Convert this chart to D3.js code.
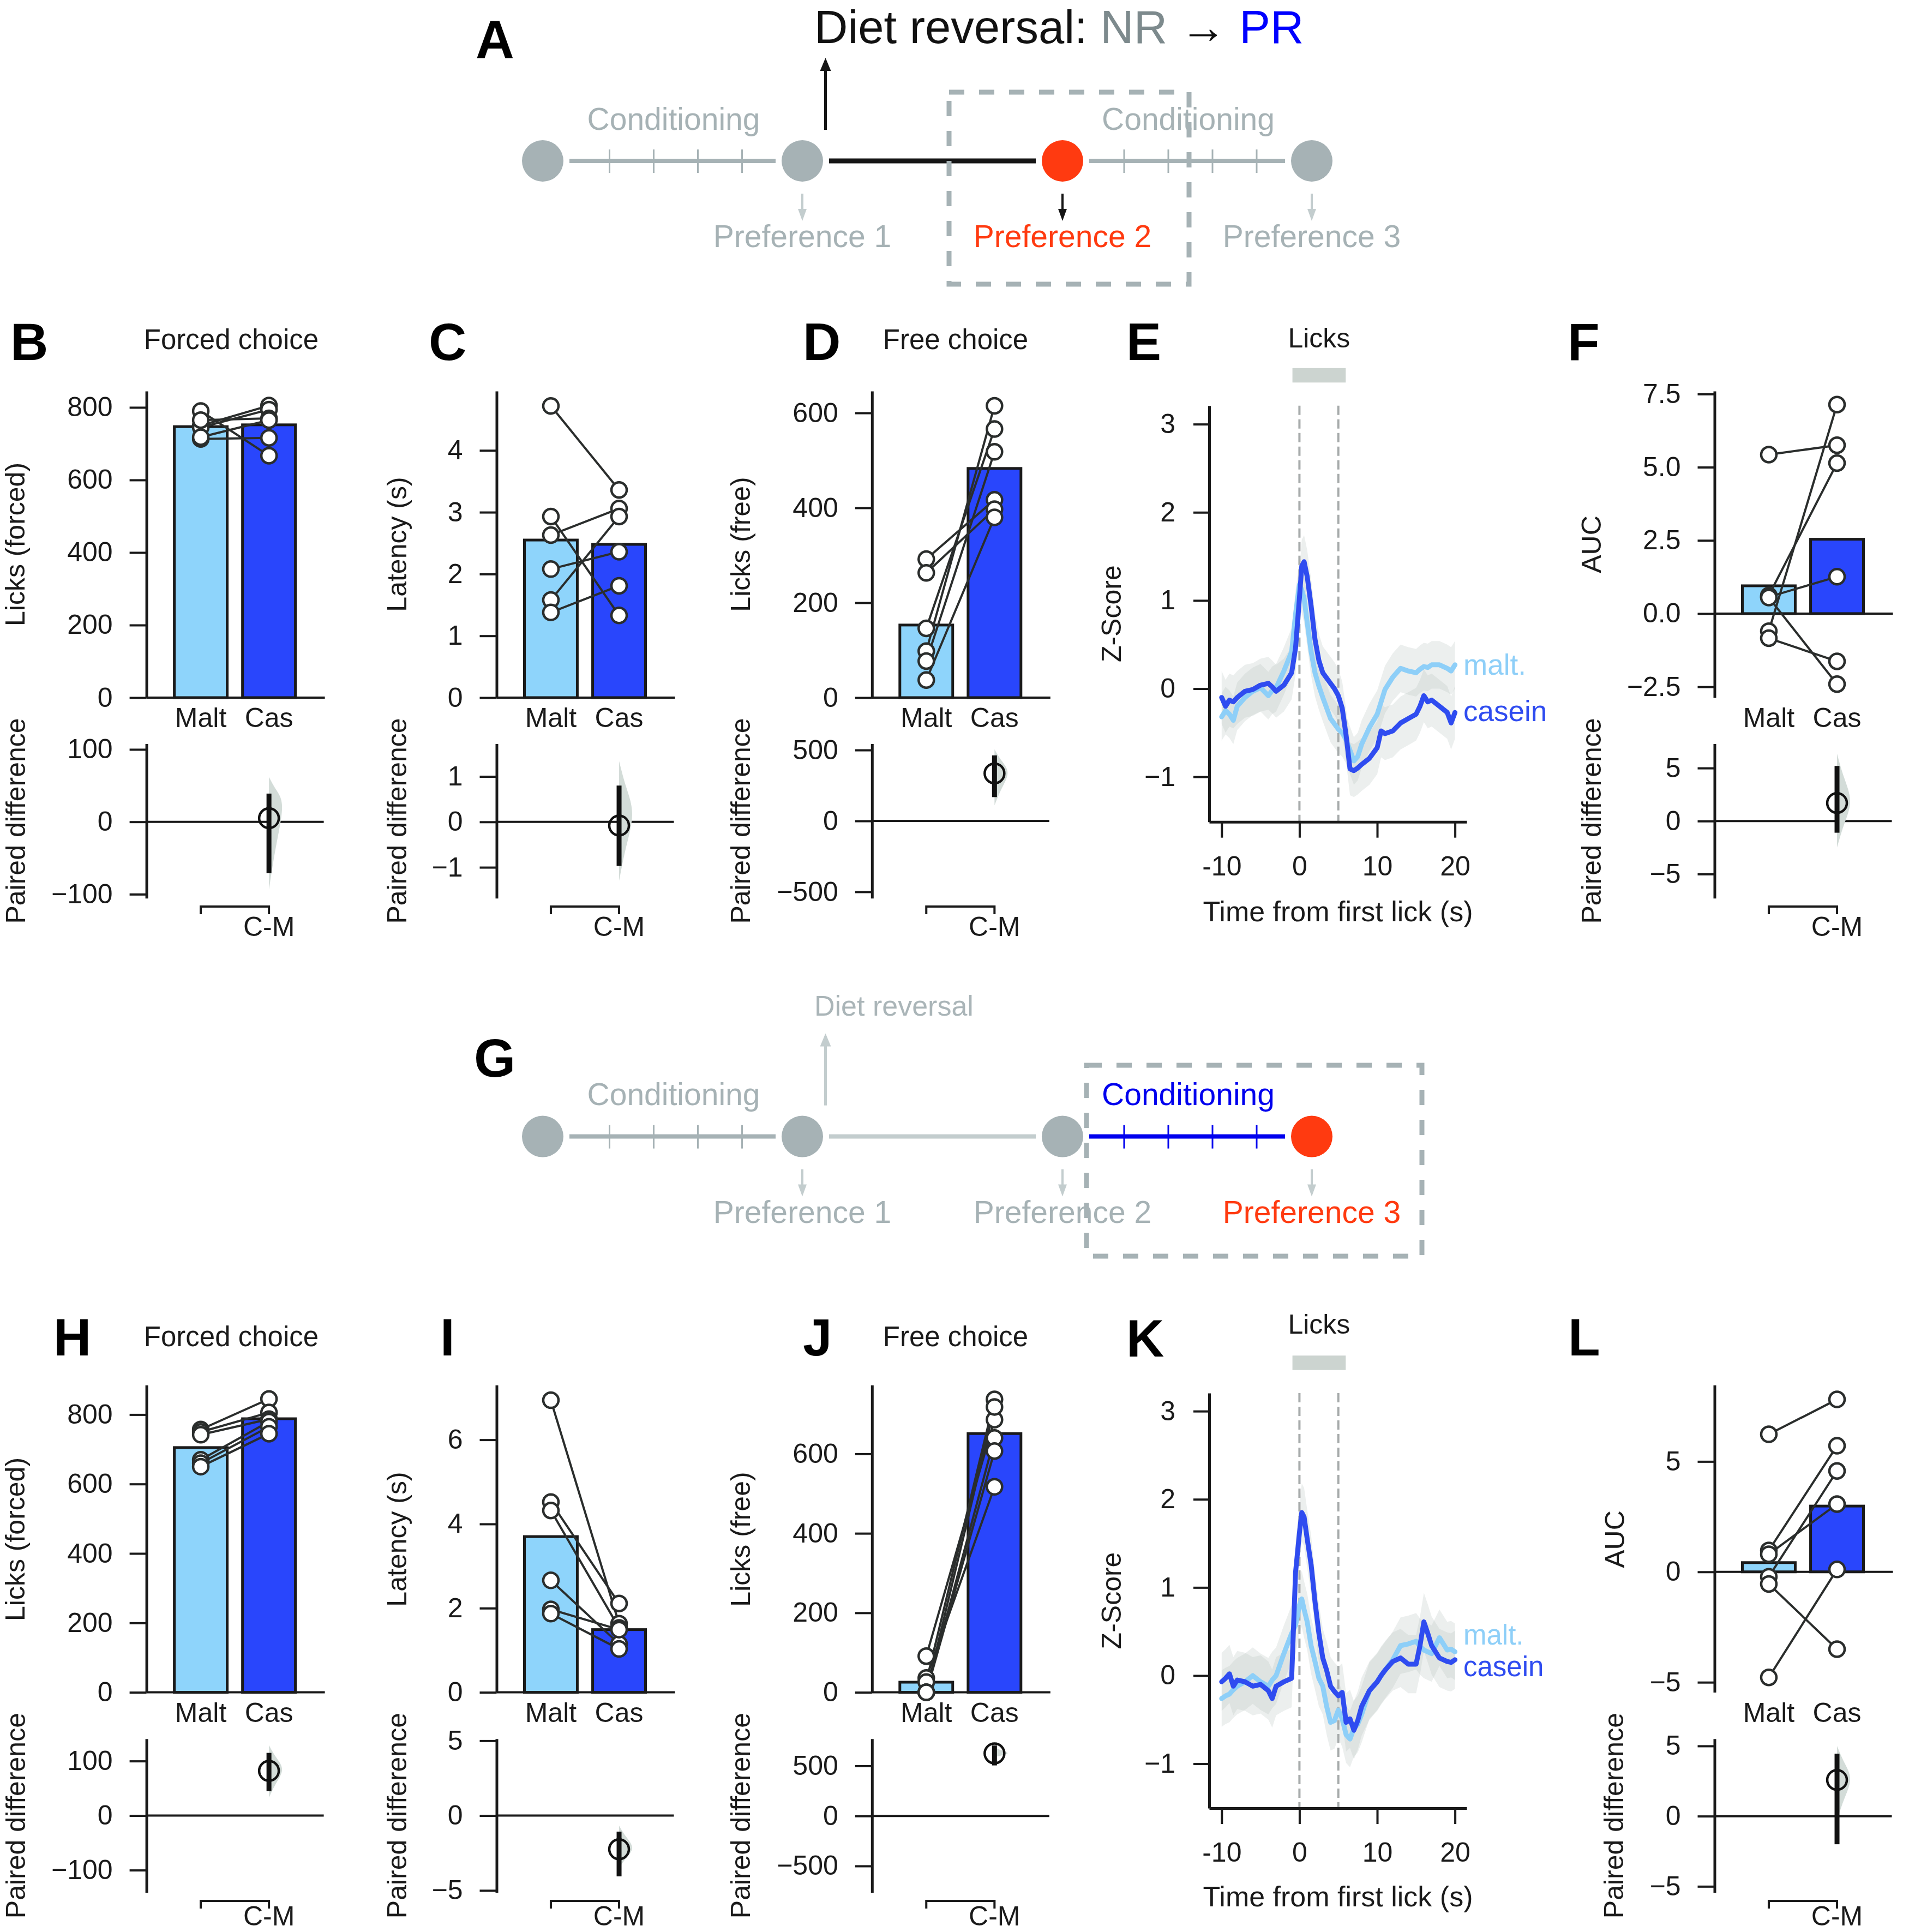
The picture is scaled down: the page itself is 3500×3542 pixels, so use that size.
<!DOCTYPE html>
<html>
<head>
<meta charset="utf-8">
<script src="https://cdn.jsdelivr.net/npm/d3@7"></script>
<style>
  html, body { margin: 0; padding: 0; background: #ffffff; }
  svg { display: block; }
</style>
</head>
<body>
<svg id="fig" width="3500" height="3542" xmlns="http://www.w3.org/2000/svg"></svg>
<script>
// ======================= DATA =======================
const categories = ["Malt", "Cas"];

// Panel B : forced-choice licks (6 rats, paired)
const bMalt = [790, 750, 745, 765, 713, 718];
const bCas  = [667, 805, 794, 770, 716, 765];
const bBars = [747, 752];
const bEstCI = [5, -71, 39];          // estimate, CI low, CI high
const bDist  = [-94, 27, 62];         // bootstrap dist: low, peak, high
const bTicks = [0, 200, 400, 600, 800];
const bDiffTicks = [-100, 0, 100];

// Panel C : latency
const cMalt = [4.72, 2.93, 2.63, 2.08, 1.58, 1.38];
const cCas  = [3.36, 1.33, 3.06, 2.36, 2.93, 1.81];
const cBars = [2.55, 2.48];
const cEstCI = [-0.08, -0.97, 0.8];
const cDist  = [-1.3, 0.2, 1.34];
const cTicks = [0, 1, 2, 3, 4];
const cDiffTicks = [-1, 0, 1];

// Panel D : free-choice licks
const dMalt = [292, 263, 146, 98, 77, 37];
const dCas  = [417, 397, 566, 615, 518, 380];
const dBars = [153, 483];
const dEstCI = [335, 168, 462];
const dDist  = [109, 345, 505];
const dTicks = [0, 200, 400, 600];
const dDiffTicks = [-500, 0, 500];

// Panel F : AUC
const fMalt = [5.43, 0.62, 0.57, 0.55, -0.6, -0.84];
const fCas  = [5.75, 5.14, 1.26, -2.41, 7.14, -1.63];
const fBars = [0.95, 2.54];
const fEstCI = [1.7, -1.1, 5.2];
const fDist  = [-2.5, 1.85, 6.35];
const fTicks = [-2.5, 0, 2.5, 5, 7.5];
const fDiffTicks = [-5, 0, 5];

// Panel H : forced-choice licks (after reversal)
const hMalt = [757, 750, 742, 670, 660, 650];
const hCas  = [845, 806, 787, 780, 765, 745];
const hBars = [705, 788];
const hEstCI = [82, 45, 115];
const hDist  = [33, 85, 129];
const hTicks = [0, 200, 400, 600, 800];
const hDiffTicks = [-100, 0, 100];

// Panel I : latency
const iMalt = [6.94, 4.52, 4.32, 2.66, 1.97, 1.87];
const iCas  = [1.63, 2.11, 1.53, 1.15, 1.49, 1.03];
const iBars = [3.70, 1.49];
const iEstCI = [-2.25, -4.06, -1.07];
const iDist  = [-3.5, -2.17, -0.67];
const iTicks = [0, 2, 4, 6];
const iDiffTicks = [-5, 0, 5];

// Panel J : free-choice licks
const jMalt = [91, 36, 26, 0, 0, 0];
const jCas  = [686, 517, 737, 718, 640, 607];
const jBars = [25.5, 651];
const jEstCI = [625, 505, 705];
const jDist  = [585, 625, 685];
const jTicks = [0, 200, 400, 600];
const jDiffTicks = [-500, 0, 500];

// Panel L : AUC
const lMalt = [6.23, 0.97, -0.22, 0.8, -0.55, -4.78];
const lCas  = [7.81, 5.71, 4.57, 3.07, -3.5, 0.11];
const lBars = [0.42, 2.98];
const lEstCI = [2.58, -2.0, 4.45];
const lDist  = [-0.3, 2.7, 5.0];
const lTicks = [-5, 0, 5];
const lDiffTicks = [-5, 0, 5];

// Panels E / K : photometry traces (Z-score vs time from first lick)
const timeGrid = [-10,-9.5,-9,-8.5,-8,-7,-6,-5,-4,-3.5,-3,-2,-1,-0.5,0,0.3,0.6,1,1.5,2,2.5,3,3.5,4,4.5,5,5.5,6,6.5,7,7.5,8,9,10,10.5,11,12,13,14,15,15.5,16,16.5,17,18,19,19.5,20];
const eMaltZ = [-0.32,-0.25,-0.29,-0.36,-0.20,-0.10,-0.03,0.01,-0.08,-0.02,0.01,0.20,0.42,0.84,1.18,1.12,1.02,0.75,0.42,0.18,0.03,-0.10,-0.22,-0.34,-0.40,-0.46,-0.50,-0.58,-0.70,-0.82,-0.77,-0.63,-0.44,-0.29,-0.15,-0.01,0.13,0.23,0.20,0.18,0.22,0.25,0.24,0.27,0.27,0.23,0.20,0.27];
const eCasZ  = [-0.10,-0.20,-0.13,-0.15,-0.10,-0.03,-0.01,0.04,0.06,0.02,-0.03,0.04,0.18,0.46,1.03,1.39,1.44,1.27,0.94,0.56,0.32,0.18,0.12,0.06,0.00,-0.08,-0.22,-0.53,-0.91,-0.93,-0.90,-0.86,-0.79,-0.67,-0.48,-0.51,-0.48,-0.39,-0.34,-0.29,-0.20,-0.08,-0.15,-0.13,-0.20,-0.27,-0.39,-0.27];
const kMaltZ = [-0.26,-0.23,-0.21,-0.16,-0.12,-0.07,0.00,-0.07,-0.12,-0.05,0.00,0.25,0.48,0.57,0.80,0.87,0.75,0.61,0.34,0.16,-0.03,-0.12,-0.35,-0.53,-0.51,-0.39,-0.49,-0.67,-0.72,-0.60,-0.55,-0.44,-0.17,-0.07,0.00,0.06,0.18,0.34,0.36,0.39,0.33,0.29,0.27,0.25,0.43,0.29,0.30,0.27];
const kCasZ  = [-0.07,-0.03,0.02,-0.12,-0.05,-0.07,-0.12,-0.10,-0.17,-0.26,-0.12,-0.07,-0.03,1.17,1.62,1.85,1.80,1.55,1.26,0.84,0.48,0.20,0.06,-0.12,-0.18,-0.23,-0.19,-0.53,-0.49,-0.62,-0.51,-0.35,-0.17,-0.07,0.00,0.06,0.16,0.20,0.13,0.13,0.34,0.61,0.48,0.34,0.20,0.16,0.15,0.18];
const eSem = [0.27, 0.30];   // malt, casein SEM
const kSem = [0.32, 0.33];
const lickWindow = [0, 5];
const lickBar = [-0.9, 5.95];
const zTicks = [-1, 0, 1, 2, 3];
const timeTicks = [-10, 0, 10, 20];
const traceNames = ["malt.", "casein"];

// Schematic
const prefNames = ["Preference 1", "Preference 2", "Preference 3"];
const condDays = [1, 2, 3, 4];

// ======================= STYLE / LAYOUT =======================
const FONT = "'Liberation Sans', Arial, Helvetica, sans-serif";
const INK = "#1a1a1a";
const MALT_C = "#8ed4fb", CAS_C = "#2946fc";
const TR_MALT = "#8ecff8", TR_CAS = "#2f4cf0";
const GRAY = "#a6b2b5", LGRAY = "#c3cdce", ORANGE = "#ff3a10", BLUE = "#0000ee";

const svg = d3.select("#fig");
svg.append("rect").attr("width", 3500).attr("height", 3542).attr("fill", "#fff");

function txt(g, x, y, s, o = {}) {
  return g.append("text").attr("x", x).attr("y", y).text(s)
    .attr("font-size", o.size || 50).attr("fill", o.fill || INK)
    .attr("text-anchor", o.anchor || "start")
    .attr("font-weight", o.weight || "normal")
    .attr("font-family", FONT);
}
function vtxt(g, x, yc, s, size) {
  return g.append("text").attr("transform", `translate(${x},${yc}) rotate(-90)`)
    .attr("text-anchor", "middle").attr("font-size", size || 50)
    .attr("fill", INK).attr("font-family", FONT).text(s);
}
function styleAxis(sel, size) {
  sel.attr("font-size", size).attr("font-family", FONT);
  sel.select(".domain").attr("stroke", INK).attr("stroke-width", 5);
  sel.selectAll(".tick line").attr("stroke", INK).attr("stroke-width", 4);
  sel.selectAll(".tick text").attr("fill", INK);
}
function arrow(g, x, y0, y1, color, w, hw, hl) {
  const dir = Math.sign(y1 - y0);
  g.append("line").attr("x1", x).attr("x2", x).attr("y1", y0).attr("y2", y1 - dir * hl * 0.8)
    .attr("stroke", color).attr("stroke-width", w);
  g.append("path").attr("d", `M${x - hw / 2},${y1 - dir * hl}L${x},${y1}L${x + hw / 2},${y1 - dir * hl}Z`)
    .attr("fill", color);
}

// ======================= SCHEMATICS (A, G) =======================
const nodeX = [995, 1471, 1948, 2405];
function schematic(c) {
  const g = svg.append("g");
  const cy = c.cy;
  const segX = nodeX.slice(0, 3).map((nx, i) => [nx + 49, nodeX[i + 1] - 49]);
  c.segs.forEach((s, i) => {
    const [x1, x2] = segX[i];
    g.append("line").attr("x1", x1).attr("x2", x2).attr("y1", cy).attr("y2", cy)
      .attr("stroke", s.color).attr("stroke-width", s.width);
    if (s.ticks) {
      const tx = d3.scalePoint().domain(condDays).range([(x1 + x2) / 2 + 6 - 121.5, (x1 + x2) / 2 + 6 + 121.5]);
      condDays.forEach(d => g.append("line").attr("x1", tx(d)).attr("x2", tx(d))
        .attr("y1", cy - 21).attr("y2", cy + 22).attr("stroke", s.color).attr("stroke-width", 3));
      txt(g, (x1 + x2) / 2 + 2, cy - 57.5, "Conditioning", { size: 57, fill: s.labelColor, anchor: "middle" });
    }
  });
  nodeX.forEach((nx, i) => g.append("circle").attr("cx", nx).attr("cy", cy).attr("r", 38).attr("fill", c.nodeColors[i]));
  arrow(g, 1513.5, cy - 57, cy - 189, c.upColor, 5, 20, 24);
  prefNames.forEach((p, i) => {
    arrow(g, nodeX[i + 1], cy + 60, cy + 110, c.downColors[i], 4, 16, 22);
    txt(g, nodeX[i + 1], cy + 158, p, { size: 57, fill: c.prefColors[i], anchor: "middle" });
  });
  g.append("rect").attr("x", c.box[0]).attr("y", c.box[1]).attr("width", c.box[2] - c.box[0]).attr("height", c.box[3] - c.box[1])
    .attr("fill", "none").attr("stroke", GRAY).attr("stroke-width", 9).attr("stroke-dasharray", "28,27");
  txt(g, c.letter[0], c.letter[1], c.letter[2], { size: 98, weight: "bold", fill: "#000" });
  return g;
}

const gA = schematic({
  cy: 295,
  segs: [{ color: GRAY, width: 8, ticks: true, labelColor: GRAY },
         { color: "#151515", width: 9, ticks: false },
         { color: GRAY, width: 8, ticks: true, labelColor: GRAY }],
  nodeColors: [GRAY, GRAY, ORANGE, GRAY],
  upColor: "#151515",
  downColors: [LGRAY, "#151515", LGRAY],
  prefColors: [GRAY, ORANGE, GRAY],
  box: [1740, 169, 2180, 521],
  letter: [872, 106, "A"]
});
{
  const t = gA.append("text").attr("x", 1493).attr("y", 79).attr("font-size", 85).attr("font-family", FONT);
  t.append("tspan").attr("fill", "#111").text("Diet reversal: ");
  t.append("tspan").attr("fill", "#7d8a8d").text("NR");
  t.append("tspan").attr("fill", "#111").text(" \u2192 ");
  t.append("tspan").attr("fill", "#0000ff").text("PR");
}

const gG = schematic({
  cy: 2083.6,
  segs: [{ color: GRAY, width: 8, ticks: true, labelColor: GRAY },
         { color: LGRAY, width: 8, ticks: false },
         { color: BLUE, width: 8, ticks: true, labelColor: BLUE }],
  nodeColors: [GRAY, GRAY, GRAY, ORANGE],
  upColor: LGRAY,
  downColors: [LGRAY, LGRAY, LGRAY],
  prefColors: [GRAY, GRAY, ORANGE],
  box: [1992, 1953, 2607, 2303],
  letter: [869, 1974, "G"]
});
txt(gG, 1493, 1862, "Diet reversal", { size: 52, fill: "#aab5b8" });

// ======================= BAR + PAIRED-DIFFERENCE PANELS =======================
const ROWS = [
  { top: [717, 1279], diff: [1363.6, 1646.7], catY: 1333, bracketY: 1662, cmY: 1715.6, letterY: 660, titleY: 640, ylabC: 998, dlabC: 1505 },
  { top: [2539.3, 3102.6], diff: [3187.8, 3469.4], catY: 3156.7, bracketY: 3485, cmY: 3530, letterY: 2485, titleY: 2467.5, ylabC: 2822, dlabC: 3328.6 }
];

function barPanel(p, R) {
  const g = svg.append("g");
  const x = d3.scaleBand().domain(categories).range([p.ax + 51, p.ax + 273]).paddingInner(0.225);
  const cx = c => x(c) + x.bandwidth() / 2;
  const y = d3.scaleLinear().domain(p.yDom).range([R.top[1], R.top[0]]);

  // bars
  g.selectAll("rect.bar").data(categories.map((c, i) => ({ c, v: p.bars[i] }))).join("rect")
    .attr("class", "bar")
    .attr("x", d => x(d.c)).attr("width", x.bandwidth())
    .attr("y", d => y(Math.max(0, d.v))).attr("height", d => Math.abs(y(d.v) - y(0)))
    .attr("fill", d => d.c === "Malt" ? MALT_C : CAS_C)
    .attr("stroke", INK).attr("stroke-width", 5);
  // zero line
  g.append("line").attr("x1", p.ax).attr("x2", p.ax + 327).attr("y1", y(0)).attr("y2", y(0))
    .attr("stroke", INK).attr("stroke-width", 4);
  // axis
  const ay = g.append("g").attr("transform", `translate(${p.ax},0)`)
    .call(d3.axisLeft(y).tickValues(p.ticks).tickSize(31).tickSizeOuter(0).tickPadding(31).tickFormat(p.fmt));
  styleAxis(ay, 50);
  // paired lines
  const pairs = p.malt.map((m, i) => [m, p.cas[i]]);
  g.selectAll("line.pair").data(pairs).join("line").attr("class", "pair")
    .attr("x1", cx("Malt")).attr("x2", cx("Cas"))
    .attr("y1", d => y(d[0])).attr("y2", d => y(d[1]))
    .attr("stroke", "#2a2d2c").attr("stroke-width", 4);
  const dots = [];
  pairs.forEach(d => { dots.push({ c: "Malt", v: d[0] }); dots.push({ c: "Cas", v: d[1] }); });
  g.selectAll("circle.dot").data(dots).join("circle").attr("class", "dot")
    .attr("cx", d => cx(d.c)).attr("cy", d => y(d.v)).attr("r", 14)
    .attr("fill", "#fff").attr("stroke", "#2a2d2c").attr("stroke-width", 4.5);
  // category labels
  g.selectAll("text.cat").data(categories).join("text").attr("class", "cat")
    .attr("x", d => cx(d)).attr("y", R.catY).attr("text-anchor", "middle")
    .attr("font-size", 50).attr("font-family", FONT).attr("fill", INK).text(d => d);

  // ---- paired difference ----
  const y2 = d3.scaleLinear().domain(p.diffDom).range([R.diff[1], R.diff[0]]);
  g.append("line").attr("x1", p.ax).attr("x2", p.ax + 325).attr("y1", y2(0)).attr("y2", y2(0))
    .attr("stroke", INK).attr("stroke-width", 4);
  const ay2 = g.append("g").attr("transform", `translate(${p.ax},0)`)
    .call(d3.axisLeft(y2).tickValues(p.diffTicks).tickSize(31).tickSizeOuter(0).tickPadding(31).tickFormat(d3.format("d")));
  styleAxis(ay2, 50);
  const xc = cx("Cas");
  const [lo, pk, hi] = p.dist;
  const vp = [[lo, 0], [lo, 0], [(lo + pk) / 2, 0.4], [pk, 1], [(pk + hi) / 2, 0.4], [hi, 0], [hi, 0]];
  g.append("path").datum(vp)
    .attr("d", d3.area().y(d => y2(d[0])).x0(xc).x1(d => xc + d[1] * 30).curve(d3.curveBasis))
    .attr("fill", "#d3dcd8");
  const [est, ciLo, ciHi] = p.est;
  g.append("rect").attr("x", xc - 4.5).attr("width", 9)
    .attr("y", y2(ciHi)).attr("height", y2(ciLo) - y2(ciHi)).attr("fill", "#111");
  g.append("circle").attr("cx", xc).attr("cy", y2(est)).attr("r", 18)
    .attr("fill", "none").attr("stroke", "#111").attr("stroke-width", 4.5);
  // bracket
  g.append("path").attr("d", `M${cx("Malt")},${R.bracketY + 14}V${R.bracketY}H${xc}V${R.bracketY + 14}`)
    .attr("fill", "none").attr("stroke", INK).attr("stroke-width", 4);
  txt(g, xc, R.cmY, "C-M", { size: 50, anchor: "middle" });

  // labels
  vtxt(g, p.ylx, R.ylabC, p.ylab, 50);
  vtxt(g, p.dlx, R.dlabC, "Paired difference", 50);
  txt(g, p.lx, R.letterY, p.letter, { size: 96, weight: "bold", fill: "#000" });
  if (p.title) txt(g, p.tx, R.titleY, p.title, { size: 51, anchor: "middle" });
}

const fmtInt = d3.format("d"), fmt1 = d3.format(".1f");
const topPanels = [
  { letter: "B", lx: 19, ax: 268.6, malt: bMalt, cas: bCas, bars: bBars, yDom: [0, 845], ticks: bTicks, fmt: fmtInt,
    diffDom: [-105.5, 107.8], diffTicks: bDiffTicks, est: bEstCI, dist: bDist, ylab: "Licks (forced)", ylx: 44.7, dlx: 45.7, title: "Forced choice", tx: 424 },
  { letter: "C", lx: 786, ax: 910.5, malt: cMalt, cas: cCas, bars: cBars, yDom: [0, 4.96], ticks: cTicks, fmt: fmtInt,
    diffDom: [-1.68, 1.72], diffTicks: cDiffTicks, est: cEstCI, dist: cDist, ylab: "Latency (s)", ylx: 744.5, dlx: 745 },
  { letter: "D", lx: 1472, ax: 1598.8, malt: dMalt, cas: dCas, bars: dBars, yDom: [0, 646], ticks: dTicks, fmt: fmtInt,
    diffDom: [-545, 544], diffTicks: dDiffTicks, est: dEstCI, dist: dDist, ylab: "Licks (free)", ylx: 1374.5, dlx: 1375, title: "Free choice", tx: 1752 },
  { letter: "F", lx: 2874, ax: 3143.5, malt: fMalt, cas: fCas, bars: fBars, yDom: [-2.87, 7.6], ticks: fTicks, fmt: fmt1,
    diffDom: [-7.28, 7.29], diffTicks: fDiffTicks, est: fEstCI, dist: fDist, ylab: "AUC", ylx: 2935, dlx: 2935 }
];
const bottomPanels = [
  { letter: "H", lx: 98, ax: 268.6, malt: hMalt, cas: hCas, bars: hBars, yDom: [0, 885], ticks: hTicks, fmt: fmtInt,
    diffDom: [-140.8, 140.8], diffTicks: hDiffTicks, est: hEstCI, dist: hDist, ylab: "Licks (forced)", ylx: 44.7, dlx: 45.7, title: "Forced choice", tx: 424 },
  { letter: "I", lx: 807, ax: 910.5, malt: iMalt, cas: iCas, bars: iBars, yDom: [0, 7.3], ticks: iTicks, fmt: fmtInt,
    diffDom: [-5.13, 5.13], diffTicks: iDiffTicks, est: iEstCI, dist: iDist, ylab: "Latency (s)", ylx: 744.5, dlx: 745 },
  { letter: "J", lx: 1472, ax: 1598.8, malt: jMalt, cas: jCas, bars: jBars, yDom: [0, 773], ticks: jTicks, fmt: fmtInt,
    diffDom: [-764, 771], diffTicks: jDiffTicks, est: jEstCI, dist: jDist, ylab: "Licks (free)", ylx: 1374.5, dlx: 1375, title: "Free choice", tx: 1752 },
  { letter: "L", lx: 2875, ax: 3143.5, malt: lMalt, cas: lCas, bars: lBars, yDom: [-5.455, 8.46], ticks: lTicks, fmt: fmtInt,
    diffDom: [-5.43, 5.51], diffTicks: lDiffTicks, est: lEstCI, dist: lDist, ylab: "AUC", ylx: 2978, dlx: 2976 }
];
topPanels.forEach(p => barPanel(p, ROWS[0]));
bottomPanels.forEach(p => barPanel(p, ROWS[1]));

// ======================= TRACE PANELS (E, K) =======================
function tracePanel(p) {
  const g = svg.append("g");
  const x = d3.scaleLinear().domain([-11.6, 21.5]).range([2217, 2689]);
  const y = d3.scaleLinear().domain(p.yDom).range([p.bottom, p.top]);
  const series = [
    { v: p.malt, s: p.sem[0], color: TR_MALT },
    { v: p.cas, s: p.sem[1], color: TR_CAS }
  ];
  series.forEach(sr => {
    g.append("path").datum(timeGrid.map((t, i) => [t, sr.v[i]]))
      .attr("d", d3.area().x(d => x(d[0])).y0(d => y(d[1] - sr.s)).y1(d => y(d[1] + sr.s)))
      .attr("fill", "#bcc6c1").attr("opacity", 0.28);
  });
  lickWindow.forEach(t => g.append("line").attr("x1", x(t)).attr("x2", x(t)).attr("y1", p.top).attr("y2", p.bottom)
    .attr("stroke", "#a7abab").attr("stroke-width", 4).attr("stroke-dasharray", "17,8"));
  series.forEach(sr => {
    g.append("path").datum(timeGrid.map((t, i) => [t, sr.v[i]]))
      .attr("d", d3.line().x(d => x(d[0])).y(d => y(d[1])))
      .attr("fill", "none").attr("stroke", sr.color).attr("stroke-width", 9)
      .attr("stroke-linejoin", "round").attr("stroke-linecap", "round");
  });
  const ay = g.append("g").attr("transform", "translate(2217,0)")
    .call(d3.axisLeft(y).tickValues(zTicks).tickSize(29).tickSizeOuter(0).tickPadding(33).tickFormat(d3.format("d")));
  styleAxis(ay, 50);
  const ax = g.append("g").attr("transform", `translate(0,${p.bottom})`)
    .call(d3.axisBottom(x).tickValues(timeTicks).tickSize(29).tickSizeOuter(0).tickPadding(33.5)
      .tickFormat(d => (d < 0 ? "-" + Math.abs(d) : String(d))));
  styleAxis(ax, 50);
  // lick bar + title
  g.append("rect").attr("x", x(lickBar[0])).attr("width", x(lickBar[1]) - x(lickBar[0]))
    .attr("y", p.barY).attr("height", 26.5).attr("fill", "#ccd4d0");
  txt(g, x((lickBar[0] + lickBar[1]) / 2), p.lickY, "Licks", { size: 50, anchor: "middle" });
  // legend
  txt(g, 2683, p.legY[0], traceNames[0], { size: p.legSize, fill: TR_MALT });
  txt(g, 2683, p.legY[1], traceNames[1], { size: p.legSize, fill: TR_CAS });
  vtxt(g, 2054.6, (p.top + p.bottom) / 2, "Z-Score", 50);
  txt(g, 2453, p.xlabY, "Time from first lick (s)", { size: 52, anchor: "middle" });
  txt(g, 2065, p.letterY, p.letter, { size: 96, weight: "bold", fill: "#000" });
}
tracePanel({ letter: "E", letterY: 660, top: 743.7, bottom: 1506.7, yDom: [-1.511, 3.21], malt: eMaltZ, cas: eCasZ, sem: eSem,
  barY: 674.8, lickY: 636.5, legY: [1237.3, 1321.5], legSize: 53, xlabY: 1688.8 });
tracePanel({ letter: "K", letterY: 2487, top: 2554, bottom: 3315, yDom: [-1.504, 3.205], malt: kMaltZ, cas: kCasZ, sem: kSem,
  barY: 2485.2, lickY: 2445, legY: [3015, 3073], legSize: 51, xlabY: 3495 });
</script>
</body>
</html>
